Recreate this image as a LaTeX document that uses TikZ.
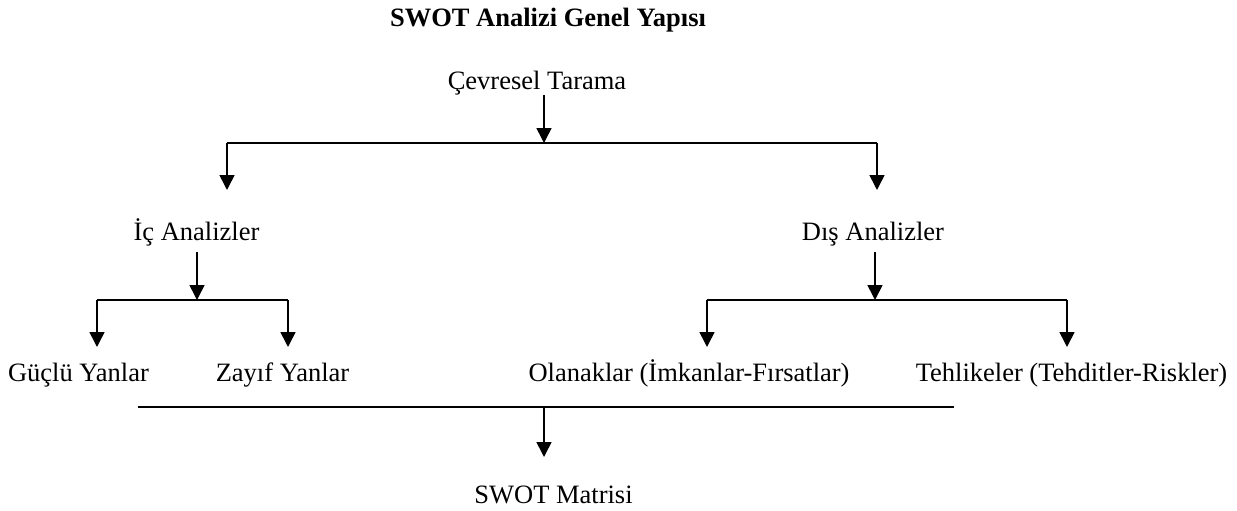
\documentclass[tikz,border=0pt]{standalone}
\usepackage{fontspec}
\setmainfont{Liberation Serif}
\usetikzlibrary{arrows.meta}
\tikzset{
  lbl/.style={anchor=base, inner sep=0pt, font=\fontsize{26.5}{30}\selectfont},
  ttl/.style={lbl, font=\fontsize{26.5}{30}\selectfont\bfseries},
  conn/.style={line width=1.6pt, black},
  arr/.style={conn, -{Triangle[width=15pt,length=15pt]}},
}
\begin{document}
\begin{tikzpicture}[x=1pt,y=-1pt]
\useasboundingbox (0,0) rectangle (1237,511);
% texts
\node[ttl] (title) at (548,27) {SWOT Analizi Genel Yapısı};
\node[lbl] (cev) at (537,89.5) {Çevresel Tarama};
\node[lbl] (ic) at (196.5,240) {İç Analizler};
\node[lbl] (dis) at (873,240) {Dış Analizler};
\node[lbl] (guc) at (78.5,381) {Güçlü Yanlar};
\node[lbl] (zay) at (282.5,381) {Zayıf Yanlar};
\node[lbl] (ola) at (689,381) {Olanaklar (İmkanlar-Fırsatlar)};
\node[lbl] (teh) at (1071.5,381) {Tehlikeler (Tehditler-Riskler)};
\node[lbl] (mat) at (553.5,503) {SWOT Matrisi};
% coordinates
\coordinate (c0) at (544,95);
\coordinate (c1) at (544,143);
\coordinate (c1l) at (227,143);
\coordinate (c1r) at (877,143);
\coordinate (icT) at (227,190);
\coordinate (disT) at (877,190);
\coordinate (i0) at (197,252);
\coordinate (i1) at (197,300);
\coordinate (i1l) at (97,300);
\coordinate (i1r) at (288,300);
\coordinate (gucT) at (97,347);
\coordinate (zayT) at (288,347);
\coordinate (d0) at (875,252);
\coordinate (d1) at (875,300);
\coordinate (d1l) at (707,300);
\coordinate (d1r) at (1067,300);
\coordinate (olaT) at (707,347);
\coordinate (tehT) at (1067,347);
\coordinate (b0) at (138,407);
\coordinate (b1) at (954,407);
\coordinate (bm) at (544,407);
\coordinate (matT) at (544,457);
% connectors
\draw[arr] (c0) -- (c1);
\draw[conn] (c1l) -- (c1r);
\draw[arr] (c1l) -- (icT);
\draw[arr] (c1r) -- (disT);
\draw[arr] (i0) -- (i1);
\draw[conn] (i1l) -- (i1r);
\draw[arr] (i1l) -- (gucT);
\draw[arr] (i1r) -- (zayT);
\draw[arr] (d0) -- (d1);
\draw[conn] (d1l) -- (d1r);
\draw[arr] (d1l) -- (olaT);
\draw[arr] (d1r) -- (tehT);
\draw[conn] (b0) -- (b1);
\draw[arr] (bm) -- (matT);
\end{tikzpicture}
\end{document}
